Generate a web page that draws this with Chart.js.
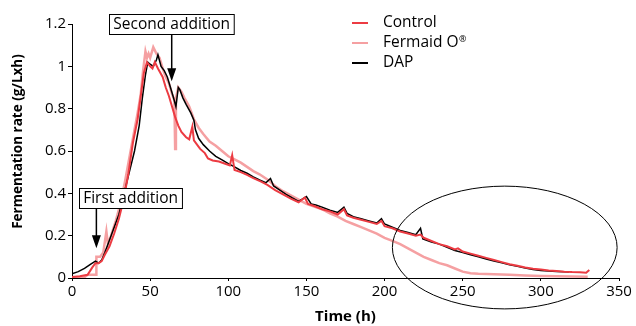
<!DOCTYPE html>
<html><head><meta charset="utf-8">
<script src="https://cdn.jsdelivr.net/npm/chart.js@4/dist/chart.umd.min.js"></script>
<style>html,body{margin:0;padding:0;background:#fff}#wrap{width:636px;height:326px;position:relative}</style>
</head><body><div id="wrap"><canvas id="c" width="636" height="326"></canvas></div>
<script>
// ---- data ----
const seriesNames = ['Control', 'Fermaid O', 'DAP'];

const controlTime = [0,5,10,13,15,17,19,21,24,27,30,33,36,39,42,44,46,48,50,51.5,53,55,58,60,62,64,66,68,70,73,75,77,78,80,82,85,87,90,94,98,101,102.5,104,108,112,116,121,125,130,135,140,145,149,151,155,160,165,170,174,176,180,185,190,195,198,200,205,210,215,220,223,225,230,235,240,245,247,250,255,260,265,270,275,280,285,290,295,300,305,310,315,320,325,329,331];
const controlRate = [0.005,0.008,0.015,0.05,0.07,0.07,0.08,0.11,0.15,0.21,0.28,0.37,0.49,0.64,0.75,0.86,0.97,1.02,1.0,0.99,1.02,0.99,0.95,0.90,0.86,0.81,0.76,0.72,0.69,0.665,0.655,0.715,0.65,0.63,0.61,0.59,0.565,0.555,0.55,0.54,0.532,0.58,0.51,0.50,0.487,0.472,0.455,0.44,0.415,0.395,0.375,0.358,0.38,0.35,0.34,0.325,0.315,0.30,0.325,0.295,0.285,0.275,0.265,0.255,0.27,0.245,0.235,0.22,0.21,0.20,0.205,0.19,0.175,0.16,0.15,0.135,0.14,0.125,0.115,0.105,0.095,0.085,0.075,0.065,0.058,0.05,0.044,0.04,0.036,0.033,0.03,0.028,0.027,0.025,0.038];

const fermaidTime = [0,5,8,10,12,15.5,15.6,18,20,22,23,25,28,31,34,37,40,42,44,45.5,47,48,49,50,52,54,56,58,60,62,64,65.5,66,66.5,68,70,72,75,78,81,84,88,92,96,100,104,108,112,116,120,125,130,135,140,145,150,155,160,165,170,175,180,185,190,195,200,205,210,215,220,225,230,235,240,245,250,255,260,270,280,290,300,310,320,330];
const fermaidRate = [0.0,0.002,0.004,0.015,0.015,0.015,0.10,0.10,0.12,0.22,0.16,0.20,0.27,0.35,0.46,0.58,0.70,0.78,0.87,0.98,1.07,1.04,1.06,1.04,1.09,1.06,1.04,0.99,0.95,0.92,0.87,0.84,0.61,0.85,0.90,0.88,0.85,0.81,0.75,0.71,0.68,0.645,0.625,0.60,0.575,0.56,0.545,0.525,0.505,0.49,0.465,0.435,0.41,0.39,0.37,0.35,0.337,0.325,0.305,0.29,0.27,0.255,0.24,0.225,0.21,0.19,0.175,0.16,0.14,0.12,0.10,0.085,0.07,0.06,0.045,0.03,0.022,0.02,0.018,0.015,0.012,0.01,0.008,0.007,0.006];

const dapTime = [0,4,8,12,15,17,19,21,24,27,30,33,36,40,43,45,47,48.5,50,52,54,55,57,59,61,63,65,66.5,68,69,71,73,76,78,79,81,84,88,92,96,100,104,108,112,116,120,124,127,129,133,137,141,145,150,153,156,160,165,170,174,176,180,185,190,195,198,200,205,210,215,220,223,224.5,230,235,240,245,250,255,260,265,270,275,280,285,290,295,300,305,310,315,318];
const dapRate = [0.02,0.03,0.045,0.065,0.08,0.07,0.085,0.12,0.18,0.24,0.30,0.39,0.48,0.60,0.72,0.85,0.96,1.02,1.01,1.0,1.03,1.055,1.0,0.98,0.95,0.90,0.85,0.81,0.90,0.89,0.85,0.82,0.78,0.745,0.70,0.66,0.63,0.60,0.575,0.558,0.54,0.525,0.508,0.495,0.478,0.463,0.45,0.47,0.435,0.415,0.395,0.378,0.362,0.385,0.35,0.345,0.335,0.32,0.31,0.335,0.305,0.29,0.28,0.27,0.26,0.28,0.255,0.24,0.225,0.215,0.205,0.235,0.185,0.17,0.16,0.145,0.13,0.12,0.11,0.10,0.09,0.08,0.072,0.063,0.055,0.047,0.04,0.036,0.033,0.031,0.029,0.028];

const xTickValues = [0,50,100,150,200,250,300,350];
const yTickValues = [0,0.2,0.4,0.6,0.8,1.0,1.2];
const xTitle = 'Time (h)';
const yTitle = 'Fermentation rate (g/Lxh)';
const notes = [
  {text:'Second addition', boxT:63.8, boxTop:1.247, arrowT:63.8, arrowTip:0.93},
  {text:'First addition', boxT:37.5, boxTop:0.425, arrowT:15.6, arrowTip:0.14}
];
const circled = {t:276.9, v:0.144, rt:71.9, rv:0.29};

// ---- build ----
const toXY = (ts, vs) => ts.map((t,i)=>({x:t, y:vs[i]}));
const colors = ['#ec3b42', '#f5a0a2', '#000000'];
const FONT = '"Open Sans", "Noto Sans", sans-serif';

const overlay = {
  id:'overlay',
  afterDraw(chart){
    const ctx = chart.ctx, xs = chart.scales.x, ys = chart.scales.y, ca = chart.chartArea;
    ctx.save();
    // y title
    ctx.fillStyle = '#000';
    ctx.font = 'bold 13.5px ' + FONT;
    ctx.textAlign = 'center'; ctx.textBaseline = 'middle';
    ctx.translate(18.5, 141.5); ctx.rotate(-Math.PI/2);
    ctx.fillText(yTitle, 0, 0);
    ctx.setTransform(1,0,0,1,0,0);
    // annotations
    ctx.font = '15.5px ' + FONT;
    notes.forEach(n=>{
      const w = ctx.measureText(n.text).width + 8, h = 20;
      const cx = xs.getPixelForValue(n.boxT), top = ys.getPixelForValue(n.boxTop);
      const ax = xs.getPixelForValue(n.arrowT), tip = ys.getPixelForValue(n.arrowTip);
      const bx = Math.round(cx - w/2) + 0.5, by = Math.round(top) + 0.5;
      ctx.fillStyle = '#fff'; ctx.fillRect(bx, by, w, h);
      ctx.strokeStyle = '#000'; ctx.lineWidth = 1; ctx.strokeRect(bx, by, w, h);
      ctx.fillStyle = '#000'; ctx.textAlign='center'; ctx.textBaseline='middle';
      ctx.fillText(n.text, cx, by + h/2 + 0.5);
      ctx.lineWidth = 1.5;
      ctx.beginPath(); ctx.moveTo(ax, by + h); ctx.lineTo(ax, tip - 10); ctx.stroke();
      ctx.beginPath(); ctx.moveTo(ax - 4.5, tip - 13); ctx.lineTo(ax + 4.5, tip - 13); ctx.lineTo(ax, tip); ctx.closePath(); ctx.fill();
    });
    // ellipse
    const ex = xs.getPixelForValue(circled.t), ey = ys.getPixelForValue(circled.v);
    const rx = xs.getPixelForValue(circled.t + circled.rt) - ex, ry = ey - ys.getPixelForValue(circled.v + circled.rv);
    ctx.lineWidth = 1; ctx.strokeStyle = '#000';
    ctx.beginPath(); ctx.ellipse(ex, ey, rx, ry, 0, 0, Math.PI*2); ctx.stroke();
    // legend
    ctx.font = '15.5px ' + FONT; ctx.textAlign = 'left'; ctx.textBaseline = 'middle';
    seriesNames.forEach((name,i)=>{
      const y = ca.top - 1 + i*20, lx = ca.left + 280;
      ctx.strokeStyle = colors[i]; ctx.lineWidth = 2;
      ctx.beginPath(); ctx.moveTo(lx, y); ctx.lineTo(lx + 16, y); ctx.stroke();
      ctx.fillStyle = '#000';
      ctx.font = '15.5px ' + FONT;
      ctx.fillText(name, lx + 31, y);
      if (name === 'Fermaid O') {
        const w = ctx.measureText(name).width;
        ctx.font = '9px ' + FONT;
        ctx.fillText('\u00AE', lx + 31 + w + 0.5, y - 4);
      }
    });
    ctx.restore();
  }
};

new Chart(document.getElementById('c'), {
  type:'line',
  data:{ datasets:[
    {label:seriesNames[0], data:toXY(controlTime, controlRate), borderColor:colors[0], borderWidth:2, pointRadius:0, order:0},
    {label:seriesNames[1], data:toXY(fermaidTime, fermaidRate), borderColor:colors[1], borderWidth:2.5, pointRadius:0, order:2},
    {label:seriesNames[2], data:toXY(dapTime, dapRate), borderColor:colors[2], borderWidth:1.5, pointRadius:0, order:1}
  ]},
  options:{
    responsive:false, animation:false, parsing:true,
    layout:{padding:{left:0, top:24, right:17, bottom:0}},
    plugins:{legend:{display:false}, tooltip:{enabled:false}},
    scales:{
      x:{ type:'linear', min:0, max:350,
        afterBuildTicks:s=>{s.ticks = xTickValues.map(v=>({value:v}));},
        afterFit:s=>{s.height = 48;},
        border:{display:true, color:'#000', width:1},
        grid:{display:true, drawOnChartArea:false, drawTicks:true, tickLength:3, color:'#000'},
        ticks:{color:'#000', font:{family:FONT, size:15}, padding:2, maxRotation:0, callback:v=>String(v)},
        title:{display:true, text:xTitle, color:'#000', font:{family:FONT, size:15, weight:'bold'}, padding:{top:0,bottom:0}}
      },
      y:{ min:0, max:1.2,
        afterBuildTicks:s=>{s.ticks = yTickValues.map(v=>({value:v}));},
        afterFit:s=>{s.width = 72;},
        border:{display:true, color:'#000', width:1},
        grid:{display:true, drawOnChartArea:false, drawTicks:true, tickLength:4, color:'#000'},
        ticks:{color:'#000', font:{family:FONT, size:15}, padding:2, callback:v=>String(+Number(v).toFixed(1))}
      }
    }
  },
  plugins:[overlay]
});
</script></body></html>
